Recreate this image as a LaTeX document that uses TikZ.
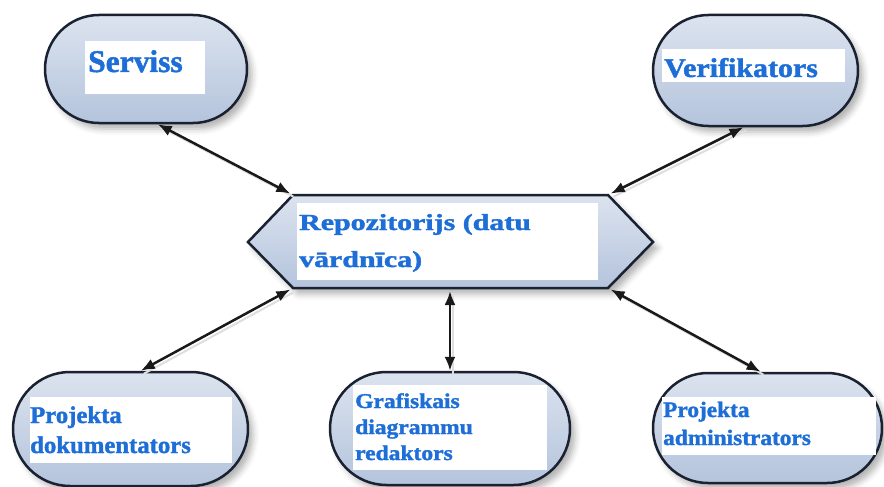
\documentclass[tikz,border=0pt]{standalone}
\usepackage{graphicx}
\usepackage{fontspec}
\setmainfont{Liberation Serif}[BoldFeatures={FakeBold=1.5}]
\usetikzlibrary{arrows.meta,shadows.blur,calc}

\definecolor{edge}{HTML}{1A2130}
\definecolor{fillTop}{HTML}{DCE3EF}
\definecolor{fillBot}{HTML}{B4C4DC}
\definecolor{txtblue}{HTML}{1E6ED8}

\tikzset{
  softshadow/.style={blur shadow={shadow xshift=5pt, shadow yshift=-6pt,
      shadow blur radius=6pt, shadow opacity=30}},
  stadium/.style n args={3}{draw=edge, line width=2.5pt,
      top color=fillTop, bottom color=fillBot, softshadow,
      minimum width=#1, minimum height=#2, rounded corners=#3, inner sep=0pt},
  wbox/.style={fill=white, draw=none, inner sep=0pt},
  lbl/.style={anchor=base west, inner sep=0pt, text=txtblue},
  conn/.style={draw=black!90, line width=2.5pt,
      {Latex[length=14pt,width=11pt]}-{Latex[length=14pt,width=11pt]},
      preaction={draw=black!13, line width=2pt, -,
        transform canvas={xshift=3pt, yshift=-3pt}}},
}

\begin{document}
\begin{tikzpicture}[x=1pt, y=-1pt]
\useasboundingbox (0,0) rectangle (884,487);

% central repository: elongated hexagon
\coordinate (hL)  at (248,242);
\coordinate (hTL) at (293,195);
\coordinate (hTR) at (608,195);
\coordinate (hR)  at (653,242);
\coordinate (hBR) at (608,288);
\coordinate (hBL) at (293,288);
\coordinate (hB)  at (450,288);
\draw[draw=edge, line width=2.5pt, line join=miter, top color=fillTop,
      bottom color=fillBot, softshadow]
  (hL) -- (hTL) -- (hTR) -- (hR) -- (hBR) -- (hBL) -- cycle;
\node[wbox, minimum width=301pt, minimum height=77pt] (repo-box) at (447.5,241.5) {};
\node[lbl, font=\bfseries\fontsize{23}{37}\selectfont] (repo-text) at (299,230)
  {\scalebox{1.3}[1]{\begin{tabular}[t]{@{}l@{}}Repozitorijs (datu\\vārdnīca)\end{tabular}}};

% surrounding tools
\node[stadium={202pt}{108pt}{54pt}] (serviss) at (146,69) {};
\node[wbox, minimum width=120pt, minimum height=53pt] (serviss-box) at (145,67.5) {};
\node[lbl, font=\bfseries\fontsize{31.5}{36}\selectfont] (serviss-text) at (88,72) {Serviss};

\node[stadium={205pt}{111pt}{55.5pt}] (verif) at (755.5,70.5) {};
\node[wbox, minimum width=183pt, minimum height=33pt] (verif-box) at (753.5,65.5) {};
\node[lbl, font=\bfseries\fontsize{27}{32}\selectfont] (verif-text) at (664,77)
  {\scalebox{1.11}[1]{Verifikators}};

\node[stadium={235pt}{114pt}{57pt}] (doku) at (130.5,429) {};
\node[wbox, minimum width=202pt, minimum height=66pt] (doku-box) at (131,430) {};
\node[lbl, font=\bfseries\fontsize{24}{30}\selectfont] (doku-text) at (30,423)
  {\scalebox{1.03}[1]{\begin{tabular}[t]{@{}l@{}}Projekta\\dokumentators\end{tabular}}};

\node[stadium={240pt}{113pt}{56.5pt}] (graf) at (450,428.5) {};
\node[wbox, minimum width=194pt, minimum height=85pt] (graf-box) at (450,427.5) {};
\node[lbl, font=\bfseries\fontsize{21}{26}\selectfont] (graf-text) at (355,408)
  {\scalebox{1.12}[1]{\begin{tabular}[t]{@{}l@{}}Grafiskais\\diagrammu\\redaktors\end{tabular}}};

\node[stadium={229pt}{110pt}{55pt}] (admin) at (767.5,428) {};
\node[wbox, minimum width=214pt, minimum height=58pt] (admin-box) at (769,426) {};
\node[lbl, font=\bfseries\fontsize{22}{28}\selectfont] (admin-text) at (663,417)
  {\scalebox{1.06}[1]{\begin{tabular}[t]{@{}l@{}}Projekta\\administrators\end{tabular}}};

% two-way links to the repository
\draw[conn, shorten >=3pt] (serviss.-78.5) -- (hTL);
\draw[conn, shorten >=3pt] (verif.-102.7) -- (hTR);
\draw[conn, shorten >=3pt] (doku.80.5) -- (hBL);
\draw[conn, shorten >=3pt] (graf.north) -- (hB);
\draw[conn, shorten >=3pt] (admin.97.8) -- (hBR);
\end{tikzpicture}
\end{document}
